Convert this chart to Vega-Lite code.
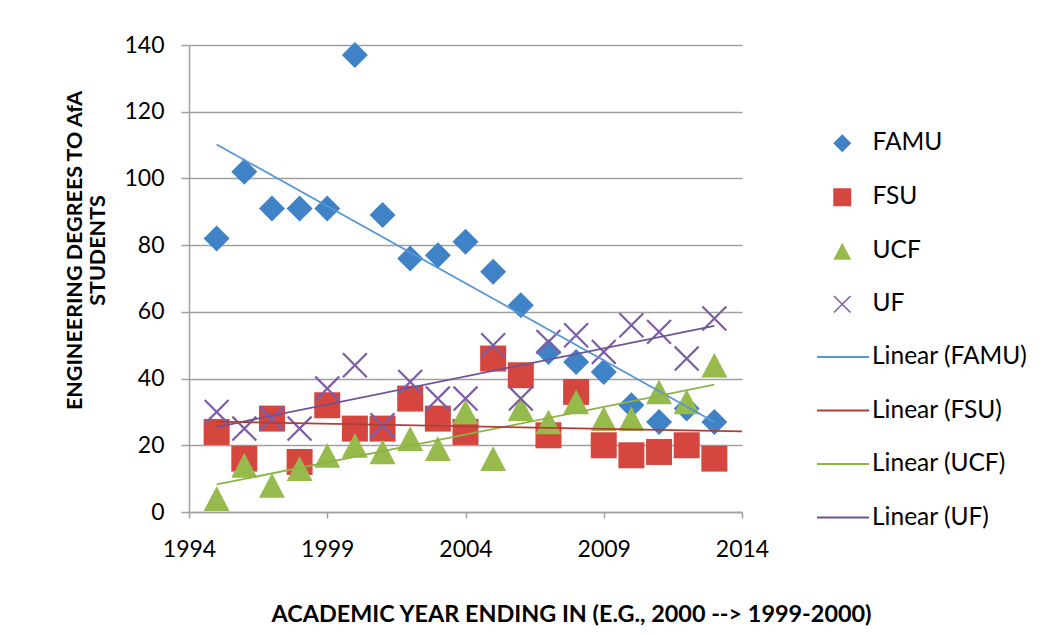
{
  "$schema": "https://vega.github.io/schema/vega-lite/v6.json",
  "width": 553,
  "height": 467,
  "autosize": {"type": "none"},
  "padding": {"left": 189, "top": 45, "right": 311, "bottom": 123},
  "background": "white",
  "config": {"font": "Lato", "view": {"stroke": null}},
  "data": {"values": [
    {"year": 1995, "series": "FAMU", "value": 82}, {"year": 1996, "series": "FAMU", "value": 102}, {"year": 1997, "series": "FAMU", "value": 91}, {"year": 1998, "series": "FAMU", "value": 91}, {"year": 1999, "series": "FAMU", "value": 91}, {"year": 2000, "series": "FAMU", "value": 137}, {"year": 2001, "series": "FAMU", "value": 89}, {"year": 2002, "series": "FAMU", "value": 76}, {"year": 2003, "series": "FAMU", "value": 77}, {"year": 2004, "series": "FAMU", "value": 81}, {"year": 2005, "series": "FAMU", "value": 72}, {"year": 2006, "series": "FAMU", "value": 62}, {"year": 2007, "series": "FAMU", "value": 48}, {"year": 2008, "series": "FAMU", "value": 45}, {"year": 2009, "series": "FAMU", "value": 42}, {"year": 2010, "series": "FAMU", "value": 32}, {"year": 2011, "series": "FAMU", "value": 27}, {"year": 2012, "series": "FAMU", "value": 31}, {"year": 2013, "series": "FAMU", "value": 27},
    {"year": 1995, "series": "FSU", "value": 24}, {"year": 1996, "series": "FSU", "value": 16}, {"year": 1997, "series": "FSU", "value": 28}, {"year": 1998, "series": "FSU", "value": 15}, {"year": 1999, "series": "FSU", "value": 32}, {"year": 2000, "series": "FSU", "value": 25}, {"year": 2001, "series": "FSU", "value": 25}, {"year": 2002, "series": "FSU", "value": 34}, {"year": 2003, "series": "FSU", "value": 28}, {"year": 2004, "series": "FSU", "value": 24}, {"year": 2005, "series": "FSU", "value": 46}, {"year": 2006, "series": "FSU", "value": 41}, {"year": 2007, "series": "FSU", "value": 23}, {"year": 2008, "series": "FSU", "value": 36}, {"year": 2009, "series": "FSU", "value": 20}, {"year": 2010, "series": "FSU", "value": 17}, {"year": 2011, "series": "FSU", "value": 18}, {"year": 2012, "series": "FSU", "value": 20}, {"year": 2013, "series": "FSU", "value": 16},
    {"year": 1995, "series": "UCF", "value": 4}, {"year": 1996, "series": "UCF", "value": 14}, {"year": 1997, "series": "UCF", "value": 8}, {"year": 1998, "series": "UCF", "value": 13}, {"year": 1999, "series": "UCF", "value": 17}, {"year": 2000, "series": "UCF", "value": 20}, {"year": 2001, "series": "UCF", "value": 18}, {"year": 2002, "series": "UCF", "value": 22}, {"year": 2003, "series": "UCF", "value": 19}, {"year": 2004, "series": "UCF", "value": 30}, {"year": 2005, "series": "UCF", "value": 16}, {"year": 2006, "series": "UCF", "value": 31}, {"year": 2007, "series": "UCF", "value": 27}, {"year": 2008, "series": "UCF", "value": 33}, {"year": 2009, "series": "UCF", "value": 28}, {"year": 2010, "series": "UCF", "value": 28}, {"year": 2011, "series": "UCF", "value": 36}, {"year": 2012, "series": "UCF", "value": 33}, {"year": 2013, "series": "UCF", "value": 44},
    {"year": 1995, "series": "UF", "value": 30}, {"year": 1996, "series": "UF", "value": 25}, {"year": 1997, "series": "UF", "value": 28}, {"year": 1998, "series": "UF", "value": 25}, {"year": 1999, "series": "UF", "value": 37}, {"year": 2000, "series": "UF", "value": 44}, {"year": 2001, "series": "UF", "value": 26}, {"year": 2002, "series": "UF", "value": 39}, {"year": 2003, "series": "UF", "value": 34}, {"year": 2004, "series": "UF", "value": 34}, {"year": 2005, "series": "UF", "value": 50}, {"year": 2006, "series": "UF", "value": 34}, {"year": 2007, "series": "UF", "value": 51}, {"year": 2008, "series": "UF", "value": 53}, {"year": 2009, "series": "UF", "value": 48}, {"year": 2010, "series": "UF", "value": 56}, {"year": 2011, "series": "UF", "value": 54}, {"year": 2012, "series": "UF", "value": 46}, {"year": 2013, "series": "UF", "value": 58}
  ]},
  "encoding": {
    "x": {
      "field": "year", "type": "quantitative",
      "scale": {"domain": [1994, 2014], "zero": false, "nice": false},
      "axis": {
        "values": [1994, 1999, 2004, 2009, 2014], "format": "d", "grid": false,
        "domainColor": "#a0a0a0", "domainWidth": 1.5, "tickColor": "#a0a0a0", "tickWidth": 1.5, "tickSize": 6,
        "labelFont": "Lato", "labelFontSize": 23, "labelColor": "#000000", "labelPadding": 20, "labelFlush": false,
        "title": "ACADEMIC YEAR ENDING IN (E.G., 2000 --> 1999-2000)",
        "titleFont": "Lato", "titleFontSize": 23.4, "titleFontWeight": "bold", "titleColor": "#000000",
        "titleX": 382, "titleY": 109, "titleAlign": "center", "titleBaseline": "alphabetic"
      }
    },
    "y": {
      "field": "value", "type": "quantitative",
      "scale": {"domain": [0, 140], "nice": false},
      "axis": {
        "values": [0, 20, 40, 60, 80, 100, 120, 140], "grid": true, "gridColor": "#a0a0a0", "gridWidth": 1.5,
        "domainColor": "#a0a0a0", "domainWidth": 1.5, "tickColor": "#a0a0a0", "tickWidth": 1.5, "tickSize": 8,
        "labelFont": "Lato", "labelFontSize": 23, "labelColor": "#000000", "labelPadding": 17,
        "title": ["ENGINEERING DEGREES TO AfA", "STUDENTS"],
        "titleFont": "Lato", "titleFontSize": 21.5, "titleFontWeight": "bold", "titleColor": "#000000",
        "titleAngle": -90, "titleX": -125, "titleY": 205, "titleAlign": "center", "titleBaseline": "top", "titleLineHeight": 23
      }
    }
  },
  "layer": [
    {
      "mark": {"type": "point", "filled": true, "opacity": 1, "size": 676},
      "encoding": {
        "color": {
          "field": "series", "type": "nominal",
          "scale": {"domain": ["FAMU", "FSU", "UCF", "UF"], "range": ["#3f82c6", "#d5473e", "#96ba4c", "#7e5da6"]},
          "legend": {
            "orient": "none", "legendX": 641, "legendY": 86, "title": null,
            "labelFont": "Lato", "labelFontSize": 24.5, "labelColor": "#000000", "labelOffset": 18,
            "symbolSize": 324, "rowPadding": 28, "symbolOpacity": 1
          }
        },
        "shape": {
          "field": "series", "type": "nominal",
          "scale": {"domain": ["FAMU", "FSU", "UCF", "UF"], "range": ["diamond", "square", "M0,-0.95L1,0.95L-1,0.95Z", "M-0.86,-0.98L0.98,0.86L0.86,0.98L-0.98,-0.86ZM-0.98,0.86L0.86,-0.98L0.98,-0.86L-0.86,0.98Z"]},
          "legend": {
            "orient": "none", "legendX": 641, "legendY": 86, "title": null,
            "labelFont": "Lato", "labelFontSize": 24.5, "labelColor": "#000000", "labelOffset": 18,
            "symbolSize": 324, "rowPadding": 28, "symbolOpacity": 1
          }
        }
      }
    },
    {
      "layer": [
        {
          "transform": [
            {"filter": "datum.series != 'FSU'"},
            {"regression": "value", "on": "year", "groupby": ["series"], "extent": [1995, 2013]}
          ],
          "mark": {"type": "line", "strokeWidth": 1.8},
          "encoding": {
            "color": {
              "field": "series", "type": "nominal",
              "scale": {"domain": ["FAMU", "FSU", "UCF", "UF"], "range": ["#5596d6", "#b23d38", "#8cb445", "#6f5298"]},
              "legend": {
                "orient": "none", "legendX": 627, "legendY": 285, "title": null,
                "labelFont": "Lato", "labelFontSize": 24.5, "labelColor": "#000000", "labelOffset": 2,
                "symbolType": "stroke", "symbolSize": 2704, "symbolStrokeWidth": 2, "rowPadding": 14.5,
                "labelExpr": "'Linear (' + datum.label + ')'"
              }
            }
          }
        },
        {
          "transform": [
            {"filter": "datum.series == 'FSU'"},
            {"regression": "value", "on": "year", "groupby": ["series"], "extent": [1995, 2014]}
          ],
          "mark": {"type": "line", "strokeWidth": 1.8},
          "encoding": {
            "color": {"field": "series", "type": "nominal"}
          }
        }
      ]
    }
  ],
  "resolve": {"scale": {"color": "independent", "shape": "independent"}}
}
